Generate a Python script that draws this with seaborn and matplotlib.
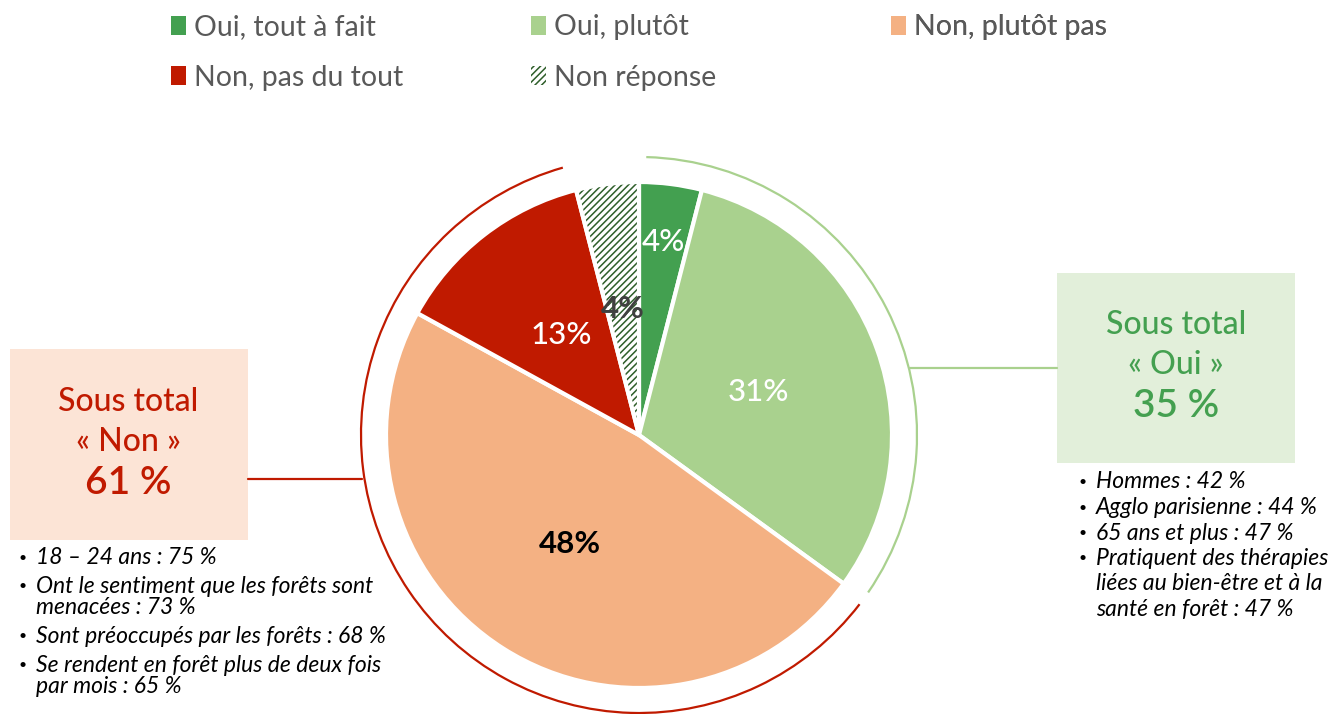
import matplotlib
matplotlib.use("Agg")
import matplotlib.pyplot as plt
import seaborn as sns
import numpy as np
from matplotlib.patches import Patch, Arc, Wedge, Rectangle

# data
categories = ["Oui, tout à fait", "Oui, plutôt", "Non, plutôt pas", "Non, pas du tout", "Non réponse"]
values = [4, 31, 48, 13, 4]
colors = ["#43a050", "#a9d18e", "#f4b183", "#c01a00", "white"]
label_colors = ["white", "white", "black", "white", "#404040"]
oui_total = 35
non_total = 61
oui_details = ["Hommes : 42 %", "Agglo parisienne : 44 %", "65 ans et plus : 47 %",
               "Pratiquent des thérapies\nliées au bien-être et à la\nsanté en forêt : 47 %"]
non_details = ["18 – 24 ans : 75 %", "Ont le sentiment que les forêts sont\nmenacées : 73 %",
               "Sont préoccupés par les forêts : 68 %",
               "Se rendent en forêt plus de deux fois\npar mois : 65 %"]

sns.set_style("white")
plt.rcParams["font.family"] = ["Lato", "DejaVu Sans"]
plt.rcParams["hatch.linewidth"] = 1.1
plt.rcParams["hatch.color"] = "#2e5e2a"

W, H = 1336, 714
fig = plt.figure(figsize=(W / 100, H / 100), dpi=100)
ax = fig.add_axes([0, 0, 1, 1])

cx, cy, R = 639, H - 435, 253
wedges, _ = ax.pie(values, colors=colors, startangle=90, counterclock=False,
                   center=(cx, cy), radius=R, frame=True,
                   wedgeprops=dict(edgecolor="white", linewidth=3))
ax.set_xlim(0, W)
ax.set_ylim(0, H)
ax.axis("off")

# hatched "non réponse" slice
hw = wedges[4]
hw.set_hatch("/////")
hw.set_edgecolor("#2e5e2a")
hw.set_linewidth(0)
ax.add_patch(Wedge((cx, cy), R, hw.theta1, hw.theta2, fill=False, edgecolor="white", linewidth=3, zorder=3))

# slice labels
label_r = [0.77, 0.5, 0.51, 0.5, 0.5]
for w, v, r, c in zip(wedges, values, label_r, label_colors):
    ang = np.deg2rad((w.theta1 + w.theta2) / 2)
    ax.text(cx + r * R * np.cos(ang), cy + r * R * np.sin(ang), f"{v}%",
            ha="center", va="center", fontsize=22.5, color=c,
            fontweight="bold" if c in ("black", "#404040") else "medium", zorder=5)

# outer arcs for subtotals
Ro = 278
oui_end = 90 - 360 * oui_total / 100
non_end = oui_end - 360 * non_total / 100
ax.add_patch(Arc((cx, cy), 2 * Ro, 2 * Ro, theta1=oui_end + 1.5, theta2=90 - 1.5,
                 color="#a9d18e", linewidth=1.6))
ax.add_patch(Arc((cx, cy), 2 * Ro, 2 * Ro, theta1=non_end + 1.5, theta2=oui_end - 1.5,
                 color="#c01a00", linewidth=1.6))

# subtotal boxes
ax.add_patch(Rectangle((10, H - 540), 238, 191, facecolor="#fce4d6", edgecolor="none"))
ax.add_patch(Rectangle((1057, H - 463), 238, 190, facecolor="#e2efda", edgecolor="none"))
ax.plot([248, 362], [H - 479, H - 479], color="#c01a00", linewidth=1.6)
ax.plot([910, 1057], [H - 368, H - 368], color="#a9d18e", linewidth=1.6)

for x0, ys, lines, col in [(128, [402, 442, 483], ["Sous total", "« Non »", f"{non_total} %"], "#c01a00"),
                           (1176, [325, 365, 406], ["Sous total", "« Oui »", f"{oui_total} %"], "#44a050")]:
    for y, t, fs in zip(ys, lines, [23, 23, 28]):
        ax.text(x0, H - y, t, ha="center", va="center", fontsize=fs, color=col,
                fontweight="medium" if fs == 23 else "semibold")


# bullet lists, multi-line items placed line by line
def bullet_list(items, x, y, line_h, gap):
    for item in items:
        lines = item.split("\n")
        ax.text(x, H - y, "•", ha="left", va="center", fontsize=10, color="black")
        for i, ln in enumerate(lines):
            ax.text(x + 17, H - (y + i * line_h), ln, ha="left", va="center",
                    fontsize=16.5, style="italic", color="black")
        y += (len(lines) - 1) * line_h + gap


bullet_list(non_details, 19, 558, 21.5, 28.5)
bullet_list(oui_details, 1079, 482, 25.5, 25.5)

# legend in three columns
handles = [Patch(facecolor=c, edgecolor="none") for c in colors[:4]]
handles.append(Patch(facecolor="white", edgecolor="#2e5e2a", hatch="/////", linewidth=0))
cols = [[0, 3], [1, 4], [2]]
xs = [160, 520, 880]
for xpos, idx in zip(xs, cols):
    lg = ax.legend([handles[i] for i in idx], [categories[i] for i in idx],
                   loc="upper left", bbox_to_anchor=(xpos / W, 1 - 3 / H),
                   bbox_transform=fig.transFigure, frameon=False, fontsize=20.5,
                   handlelength=0.5, handleheight=0.65, handletextpad=0.3,
                   labelspacing=0.86, labelcolor="#595959", borderaxespad=0)
    ax.add_artist(lg)

fig.savefig("out.png", dpi=100)
